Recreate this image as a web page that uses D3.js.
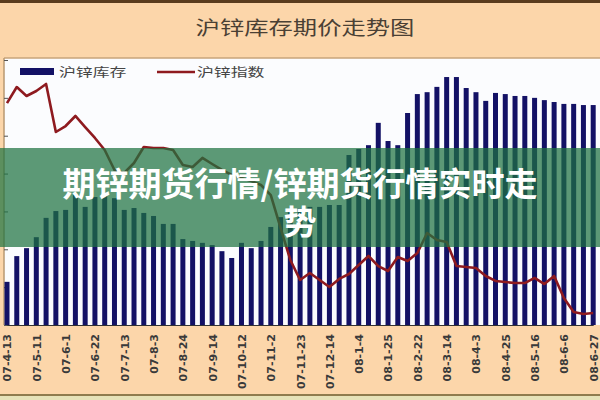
<!DOCTYPE html>
<html><head><meta charset="utf-8">
<script src="https://cdn.jsdelivr.net/npm/d3@7"></script>
<style>html,body{margin:0;padding:0;background:#fcd6aa;}svg{display:block;}</style>
</head><body><svg id="c" width="600" height="400"></svg>
<script>
const categories = ["07-4-13","07-4-20","07-4-27","07-5-11","07-5-18","07-5-25","07-6-1","07-6-8","07-6-15","07-6-22","07-6-29","07-7-6","07-7-13","07-7-20","07-7-27","07-8-3","07-8-10","07-8-17","07-8-24","07-8-31","07-9-7","07-9-14","07-9-21","07-9-28","07-10-12","07-10-19","07-10-26","07-11-2","07-11-9","07-11-16","07-11-23","07-11-30","07-12-7","07-12-14","07-12-21","07-12-28","08-1-4","08-1-11","08-1-18","08-1-25","08-2-1","08-2-15","08-2-22","08-2-29","08-3-7","08-3-14","08-3-21","08-3-28","08-4-3","08-4-11","08-4-18","08-4-25","08-5-2","08-5-9","08-5-16","08-5-23","08-5-30","08-6-6","08-6-13","08-6-20","08-6-27"];
const tickLabels = ["07-4-13","07-5-11","07-6-1","07-6-22","07-7-13","07-8-3","07-8-24","07-9-14","07-10-12","07-11-2","07-11-23","07-12-14","08-1-4","08-1-25","08-2-22","08-3-14","08-4-3","08-4-25","08-5-16","08-6-6","08-6-27"];
const inventory = [11400,18200,20300,23200,28300,30100,30400,34300,31200,33800,34900,33500,30400,30900,29600,28800,26700,26700,22700,22200,21700,21100,19500,17700,21700,20300,22200,25900,28500,29800,30900,31200,31200,31700,31700,44900,46500,47500,53400,48600,47500,56000,61000,61500,62900,65500,65500,62600,61500,59200,61300,61000,60500,60500,60000,59400,58900,58400,58400,58100,58100];
const zincIndex = [34100,35550,34740,35190,35830,31480,32020,32930,31930,30940,29850,28040,27770,28670,30120,30030,30030,29850,28490,28310,29130,28580,28040,27590,27310,27040,26680,25770,22790,19890,18080,18710,18080,17440,18170,18620,19430,20250,19340,18890,20160,19800,20520,22330,21700,21520,19340,19250,19160,18440,17990,17890,17800,17800,18260,17710,18440,16450,15180,15000,15090];
const invTicks = [0,10000,20000,30000,40000,50000,60000,70000];
const seriesNames = ["沪锌库存","沪锌指数"];
const chartTitle = "沪锌库存期价走势图";
const bannerLines = ["期锌期货行情/锌期货行情实时走","势"];

const svg = d3.select("#c");
const cjk = "'Noto Sans CJK SC','Noto Sans',sans-serif";

// header / backgrounds
svg.append("rect").attr("x",0).attr("y",0).attr("width",600).attr("height",400).attr("fill","#fcd6aa");
svg.append("rect").attr("x",0).attr("y",0).attr("width",600).attr("height",3).attr("fill","#5a3c1e");
svg.append("rect").attr("x",4).attr("y",58).attr("width",596).attr("height",267).attr("fill","#fbfcfe");
svg.append("line").attr("x1",4).attr("x2",600).attr("y1",58).attr("y2",58).attr("stroke","#c8a47a").attr("stroke-width",1.5);
svg.append("line").attr("x1",4).attr("x2",4).attr("y1",58).attr("y2",325).attr("stroke","#b89870").attr("stroke-width",1.5);
svg.append("line").attr("x1",0).attr("x2",600).attr("y1",395).attr("y2",395).attr("stroke","#6b5d2e").attr("stroke-width",1.5);
svg.append("rect").attr("x",0).attr("y",396).attr("width",600).attr("height",4).attr("fill","#e6e2b8");

// title (stretched horizontally like the source)
svg.append("g").attr("transform","translate(305,35) scale(1.28,1)")
  .append("text").attr("text-anchor","middle").attr("font-family",cjk).attr("font-size",19)
  .attr("fill","#4a4034").text(chartTitle);

// scales
const x = d3.scalePoint().domain(categories).range([7, 593.2]);
const y = d3.scaleLinear().domain([0,70000]).range([325,60]);
const yp = d3.scaleLinear().domain([14000,38000]).range([325,60]);

// left axis ticks
svg.append("g").attr("transform","translate(4,0)")
  .call(d3.axisLeft(y).tickValues(invTicks).tickSize(-4).tickFormat(""))
  .call(g=>g.select(".domain").remove())
  .call(g=>g.selectAll("line").attr("stroke","#555"));

// bars
svg.append("g").selectAll("rect").data(inventory).join("rect")
  .attr("x",(d,i)=>x(categories[i])-2.5).attr("width",5)
  .attr("y",d=>y(d)).attr("height",d=>y(0)-y(d)).attr("fill","#131165");

// line
const line = d3.line().x((d,i)=>x(categories[i])).y(d=>yp(d));
svg.append("path").datum(zincIndex).attr("d",line).attr("fill","none")
  .attr("stroke","#8e1a1f").attr("stroke-width",2.6).attr("stroke-linejoin","round");

// x axis
const xa = svg.append("g").attr("transform","translate(0,325)")
  .call(d3.axisBottom(x).tickValues(tickLabels).tickSize(0));
xa.select(".domain").attr("stroke","#333").attr("stroke-width",1.2);
xa.selectAll("text").attr("transform","rotate(-90)").attr("x",-9).attr("y",0).attr("dy","0.36em")
  .style("text-anchor","end").attr("font-family","'DejaVu Sans',sans-serif").attr("font-weight","bold")
  .attr("font-size",11).attr("fill","#3a3a3a");

// legend
svg.append("rect").attr("x",20).attr("y",68).attr("width",34).attr("height",7).attr("fill","#131165");
svg.append("g").attr("transform","translate(59,77) scale(1.35,1)").append("text")
  .attr("font-family",cjk).attr("font-size",12.5).attr("fill","#444").text(seriesNames[0]);
svg.append("line").attr("x1",157).attr("x2",195).attr("y1",72).attr("y2",72).attr("stroke","#8e1a1f").attr("stroke-width",2.6);
svg.append("g").attr("transform","translate(197,77) scale(1.35,1)").append("text")
  .attr("font-family",cjk).attr("font-size",12.5).attr("fill","#444").text(seriesNames[1]);

// banner overlay
svg.append("rect").attr("x",0).attr("y",148).attr("width",600).attr("height",99).attr("fill","rgba(30,115,65,0.72)");
bannerLines.forEach((t,i)=>svg.append("text").attr("text-anchor","middle").attr("font-family",cjk)
  .attr("font-weight","bold").attr("font-size",33).attr("fill","#ffffff")
  .attr("x",300).attr("y",i===0?196:234).text(t));
</script></body></html>
